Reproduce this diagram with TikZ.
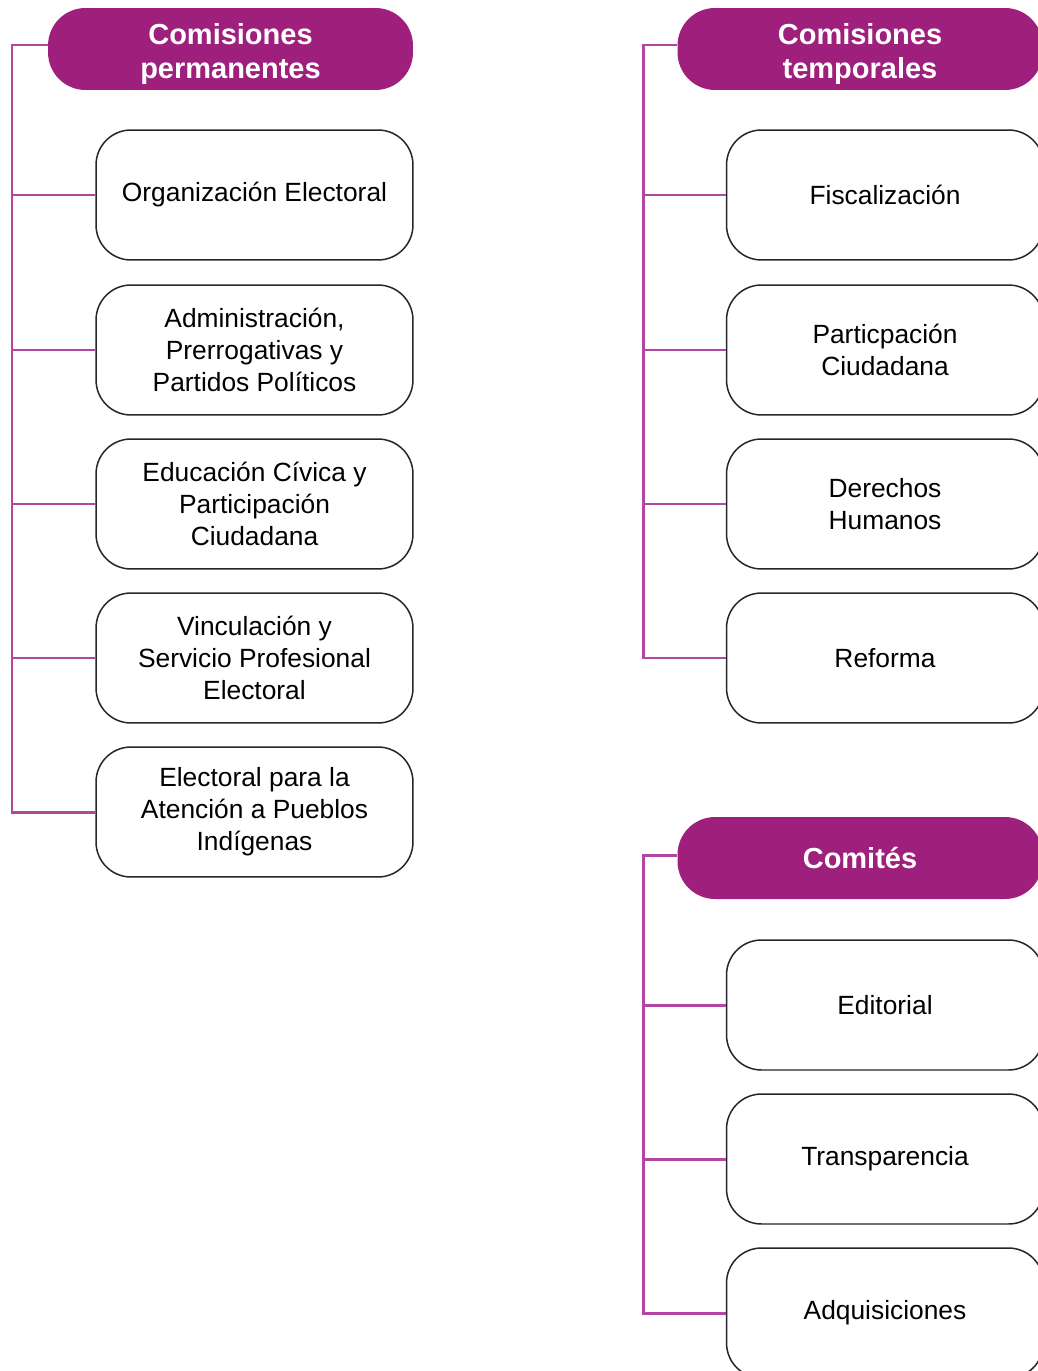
\documentclass[tikz,border=0pt]{standalone}
\usepackage{fontspec}
\setmainfont{Liberation Sans}
\definecolor{morado}{RGB}{158,32,124}
\definecolor{lineamorada}{RGB}{178,70,162}

\begin{document}
\begin{tikzpicture}[x=0.02cm,y=-0.02cm]

      \useasboundingbox (0,0) rectangle (1037,1371);

      % cabeceras
      \begin{scope}[every node/.style={fill=morado, text=white, rounded corners=0.75cm,
          minimum width=7.3cm, minimum height=1.64cm, inner sep=0pt, align=center,
          font=\fontsize{16.5}{19.4}\selectfont\bfseries}]
        \node (hp) at (230.5,49)  {\rule{0pt}{17.6pt}Comisiones\\permanentes};
        \node (ht) at (860,49)    {\rule{0pt}{17.6pt}Comisiones\\temporales};
        \node (hc) at (860,858)   {Comités};
      \end{scope}

      % cajas
      \begin{scope}[every node/.style={draw=black!85, line width=0.85pt, fill=white,
          rounded corners=0.7cm, minimum width=6.34cm, minimum height=2.6cm,
          inner sep=0pt, align=center, font=\fontsize{15}{18.2}\selectfont}]
        \node (p1) at (254.5,195)  {Organización Electoral};
        \node (p2) at (254.5,350)  {Administración,\\Prerrogativas y\\Partidos Políticos};
        \node (p3) at (254.5,504)  {Educación Cívica y\\Participación\\Ciudadana};
        \node (p4) at (254.5,658)  {Vinculación y\\Servicio Profesional\\Electoral};
        \node (p5) at (254.5,812)  {Electoral para la\\Atención a Pueblos\\Indígenas};
        \node (t1) at (885,195)    {Fiscalización};
        \node (t2) at (885,350)    {Particpación\\Ciudadana};
        \node (t3) at (885,504)    {Derechos\\Humanos};
        \node (t4) at (885,658)    {Reforma};
        \node (c1) at (885,1005)   {Editorial};
        \node (c2) at (885,1159)   {Transparencia};
        \node (c3) at (885,1313)   {Adquisiciones};
      \end{scope}

      \coordinate (sp) at (12,45);
      \coordinate (st) at (643,45);
      \coordinate (sc) at (643,855);

      \begin{scope}[every path/.style={draw=lineamorada, line width=1.7pt}]
        \path (sp -| hp.west) -- (sp) -- (sp |- p5.west) -- (p5.west);
        \foreach \n in {p1,p2,p3,p4}
          \path (sp |- \n.west) -- (\n.west);
        \path (st -| ht.west) -- (st) -- (st |- t4.west) -- (t4.west);
        \foreach \n in {t1,t2,t3}
          \path (st |- \n.west) -- (\n.west);
        \path (sc -| hc.west) -- (sc) -- (sc |- c3.west) -- (c3.west);
        \foreach \n in {c1,c2}
          \path (sc |- \n.west) -- (\n.west);
      \end{scope}

    \end{tikzpicture}
\end{document}
